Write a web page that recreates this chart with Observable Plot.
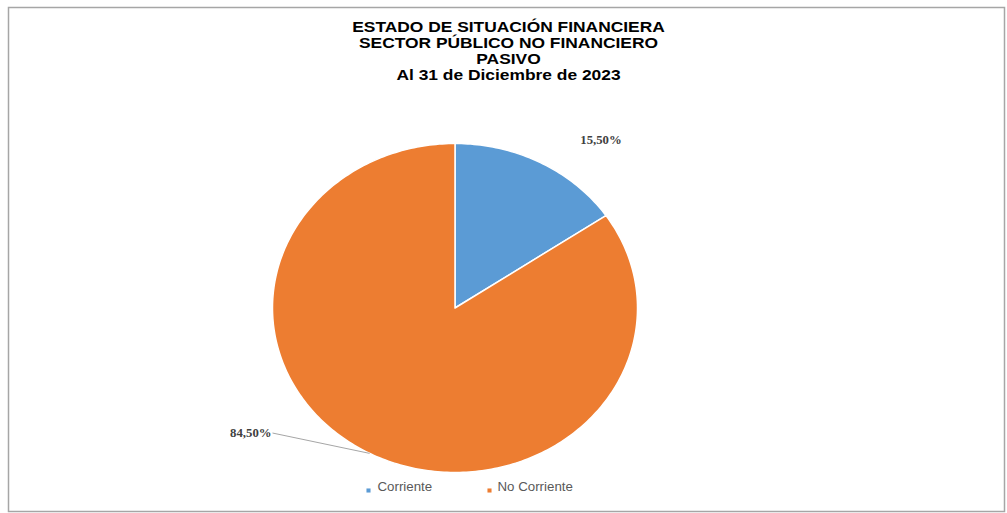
<!DOCTYPE html>
<html>
<head>
<meta charset="utf-8">
<script src="https://cdn.jsdelivr.net/npm/d3@7"></script>
<script src="https://cdn.jsdelivr.net/npm/@observablehq/plot@0.6"></script>
<style>
  html, body { margin: 0; padding: 0; background: #fff; }
  #chart { width: 1007px; height: 513px; }
</style>
</head>
<body>
<div id="chart"></div>
<script>
// ---- data ----
const titleLines = ["ESTADO DE SITUACIÓN FINANCIERA", "SECTOR PÚBLICO NO FINANCIERO", "PASIVO", "Al 31 de Diciembre de 2023"];
const categories = ["Corriente", "No Corriente"];
const values = [15.50, 84.50];
const valueLabels = ["15,50%", "84,50%"];
const colors = ["#5B9BD5", "#ED7D31"];

// ---- pie geometry on the unit circle (x/y scales map it to pixels) ----
const total = d3.sum(values);
let acc = 0;
const slices = categories.map((c, i) => {
  const a0 = acc / total * 2 * Math.PI;
  acc += values[i];
  const a1 = acc / total * 2 * Math.PI;
  return {category: c, value: values[i], label: valueLabels[i], color: colors[i], a0, a1, mid: (a0 + a1) / 2};
});
function slicePoints(s) {
  const pts = [{x: 0, y: 0}];
  const n = Math.max(2, Math.ceil((s.a1 - s.a0) / (Math.PI / 180)));
  for (let k = 0; k <= n; k++) {
    const a = s.a0 + (s.a1 - s.a0) * k / n;
    pts.push({x: Math.sin(a), y: Math.cos(a)});
  }
  pts.push({x: 0, y: 0});
  return pts;
}
// label anchor positions (unit-circle coordinates, Excel "best fit" placement)
const labelAnchors = [{x: 0.80, y: 1.02, anchor: "middle"}, {x: -1.0, y: -0.76, anchor: "end"}];
const labelData = slices.map((s, i) => ({
  ex: Math.sin(s.mid), ey: Math.cos(s.mid),
  x: labelAnchors[i].x, y: labelAnchors[i].y, anchor: labelAnchors[i].anchor, label: s.label
}));

const W = 1007, H = 513;
const SX = 1.11;      // horizontal stretch of the original picture
const SX_TITLE = 1.2; // title appears slightly wider still
const plot = Plot.plot({
  width: W,
  height: H,
  marginLeft: 8, marginTop: 7, marginRight: 3, marginBottom: 2,
  x: {domain: [-1, 1], range: [272, 637], axis: null},
  y: {domain: [-1, 1], range: [472, 143], axis: null},
  style: {background: "#fff"},
  marks: [
    Plot.frame({stroke: "#a6a6a6", strokeWidth: 1.5}),
    ...slices.map(s => Plot.line(slicePoints(s), {x: "x", y: "y", fill: s.color, stroke: "#fff", strokeWidth: 1.5, curve: "linear"})),
    // leader line for the large slice
    Plot.link([labelData[1]], {x1: "x", y1: "y", x2: "ex", y2: "ey", stroke: "#a6a6a6", strokeWidth: 1}),
    Plot.text([labelData[0]], {x: "x", y: "y", text: "label", textAnchor: "middle", fontFamily: "Liberation Serif", fontSize: 11.5, fontWeight: "bold", fill: "#404040"}),
    Plot.text([labelData[1]], {x: "x", y: "y", text: "label", textAnchor: "end", dx: -1, fontFamily: "Liberation Serif", fontSize: 11.5, fontWeight: "bold", fill: "#404040"}),
    Plot.text([titleLines.join("\n")], {frameAnchor: "top", text: d => d, dy: 13, dx: 2, lineHeight: 1.1, fontFamily: "Liberation Sans", fontWeight: "bold", fontSize: 14.5, fill: "#000", className: "title"}),
    // legend
    Plot.dot([categories[0]], {frameAnchor: "bottom-left", dx: 360, dy: -21, symbol: "square", r: 2.3, fill: colors[0]}),
    Plot.text([categories[0]], {frameAnchor: "bottom-left", text: d => d, dx: 369, dy: -21, textAnchor: "start", fontFamily: "Liberation Sans", fontSize: 12, fill: "#595959"}),
    Plot.dot([categories[1]], {frameAnchor: "bottom-left", dx: 481, dy: -21, symbol: "square", r: 2.3, fill: colors[1]}),
    Plot.text([categories[1]], {frameAnchor: "bottom-left", text: d => d, dx: 489, dy: -21, textAnchor: "start", fontFamily: "Liberation Sans", fontSize: 12, fill: "#595959"})
  ]
});
// the reference picture is stretched horizontally; stretch every text likewise
d3.select(plot).selectAll("text").each(function() {
  const isTitle = this.textContent.startsWith("ESTADO");
  const t = this.getAttribute("transform") || "";
  this.setAttribute("transform", t + ` scale(${isTitle ? SX_TITLE : SX},1)`);
});
document.getElementById("chart").appendChild(plot);
</script>
</body>
</html>
